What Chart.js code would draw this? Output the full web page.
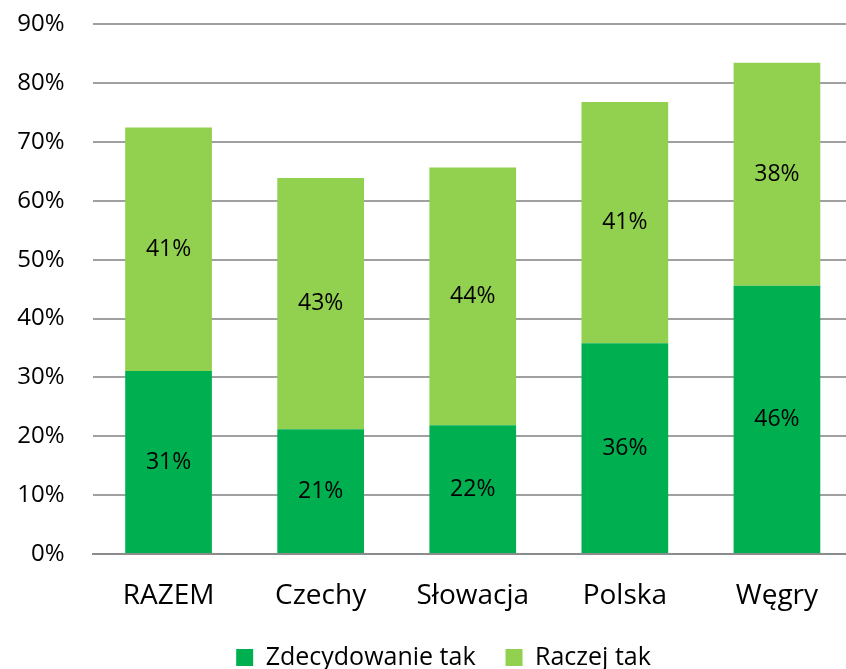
<!DOCTYPE html>
<html lang="pl">
<head>
    <meta charset="UTF-8">
    <script src="https://cdn.jsdelivr.net/npm/chart.js@4.4.0/dist/chart.umd.min.js"></script>
    <title>chart</title>
    <style>
        html, body { margin: 0; padding: 0; background: #fff; overflow: hidden; }
        #wrap { position: relative; top: -18px; width: 853px; height: 698px; }
    </style>
</head>
<body>
    <div id="wrap"><canvas id="barChart"></canvas></div>
    <script>
        // dane (w %)
        const categories = ['RAZEM', 'Czechy', 'Słowacja', 'Polska', 'Węgry'];
        const zdecydowanieTak = [31.1, 21.2, 21.9, 35.8, 45.6];
        const raczejTak = [41.4, 42.7, 43.8, 41.0, 37.9];
        const seriesNames = ['Zdecydowanie tak', 'Raczej tak'];
        const yTicks = [0, 10, 20, 30, 40, 50, 60, 70, 80, 90];

        const fontFamily = "'Open Sans', sans-serif";

        // etykiety wartości w środku słupków
        const valueLabels = {
            id: 'valueLabels',
            afterDatasetsDraw(chart) {
                const ctx = chart.ctx;
                ctx.save();
                ctx.font = '23px ' + fontFamily;
                ctx.fillStyle = '#000';
                ctx.textAlign = 'center';
                ctx.textBaseline = 'middle';
                chart.data.datasets.forEach((ds, i) => {
                    chart.getDatasetMeta(i).data.forEach((bar, j) => {
                        const y = (bar.y + bar.base) / 2;
                        ctx.fillText(Math.round(ds.data[j]) + '%', bar.x, y);
                    });
                });
                ctx.restore();
            }
        };

        // legenda przesunięta trochę w prawo, jak w oryginale
        const legendShift = {
            id: 'legendShift',
            afterLayout(chart) {
                if (chart.legend) chart.legend.left += 34;
            }
        };

        new Chart(document.getElementById('barChart'), {
            type: 'bar',
            data: {
                labels: categories,
                datasets: [
                    { label: seriesNames[0], data: zdecydowanieTak, backgroundColor: '#00B050' },
                    { label: seriesNames[1], data: raczejTak, backgroundColor: '#92D050' }
                ]
            },
            options: {
                responsive: true,
                maintainAspectRatio: false,
                animation: false,
                layout: { padding: 0 },
                datasets: { bar: { categoryPercentage: 1, barPercentage: 0.57 } },
                plugins: {
                    tooltip: { enabled: false },
                    legend: {
                        position: 'bottom',
                        labels: {
                            font: { family: fontFamily, size: 25 },
                            color: '#000',
                            boxWidth: 17,
                            boxHeight: 17,
                            padding: 30
                        }
                    }
                },
                scales: {
                    x: {
                        stacked: true,
                        afterFit(axis) { axis.height = 61; },
                        grid: { display: false },
                        border: { color: '#8c8c8c', width: 2 },
                        ticks: { font: { family: fontFamily, size: 28 }, color: '#000', padding: 17 }
                    },
                    y: {
                        stacked: true,
                        min: 0,
                        max: 90,
                        afterBuildTicks(axis) { axis.ticks = yTicks.map(v => ({ value: v })); },
                        afterFit(axis) { axis.width = 92.5; },
                        grid: { color: '#a0a0a0', lineWidth: 2, drawTicks: false },
                        border: { display: false },
                        ticks: {
                            font: { family: fontFamily, size: 24 },
                            color: '#000',
                            padding: 28,
                            callback: v => v + '%'
                        }
                    }
                }
            },
            plugins: [valueLabels, legendShift]
        });
    </script>
</body>
</html>
